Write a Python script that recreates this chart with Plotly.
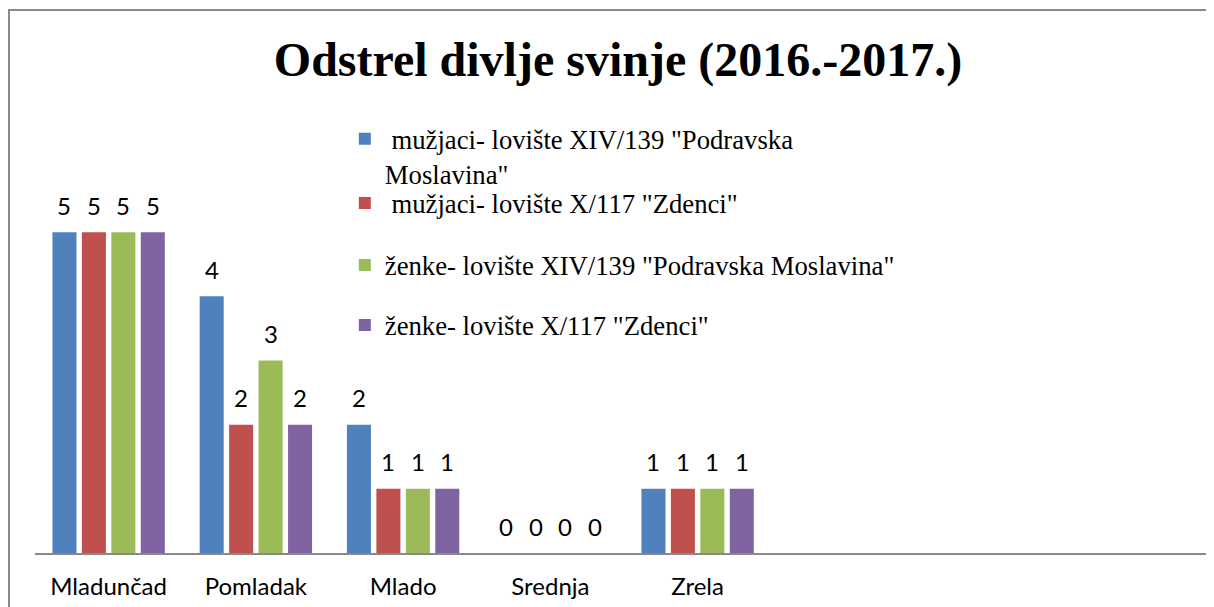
import plotly.graph_objects as go

categories = ["Mladunčad", "Pomladak", "Mlado", "Srednja", "Zrela"]
series_names = [
    "\u00a0mužjaci- lovište XIV/139 \"Podravska<br>Moslavina\"",
    "\u00a0mužjaci- lovište X/117 \"Zdenci\"",
    "ženke- lovište XIV/139 \"Podravska Moslavina\"",
    "ženke- lovište X/117 \"Zdenci\"",
]
muzjaci_podravska = [5, 4, 2, 0, 1]
muzjaci_zdenci = [5, 2, 1, 0, 1]
zenke_podravska = [5, 3, 1, 0, 1]
zenke_zdenci = [5, 2, 1, 0, 1]
series_values = [muzjaci_podravska, muzjaci_zdenci, zenke_podravska, zenke_zdenci]
colors = ["#4F81BD", "#C0504D", "#9BBB59", "#8064A2"]
title_text = "Odstrel divlje svinje (2016.-2017.)"

label_font = "Lato, Open Sans, sans-serif"
serif_font = "Liberation Serif, Times New Roman, serif"

# figure geometry (page has an 8px body margin)
FIG_W, FIG_H = 1206, 599
M_L, M_R, M_T, M_B = 27, 1, 160, 54
X_RANGE = [-0.5, 7.5]
BARGAP, BARGROUPGAP = 0.20, 0.184
plot_w = FIG_W - M_L - M_R
slot_px = plot_w / (X_RANGE[1] - X_RANGE[0])
pitch_px = slot_px * (1 - BARGAP) / len(series_values)

fig = go.Figure()
legend_ids = ["legend", "legend2", "legend3", "legend4"]
for name, vals, col, lg in zip(series_names, series_values, colors, legend_ids):
    fig.add_trace(go.Bar(
        x=categories, y=vals, name=name,
        marker=dict(color=col, line=dict(width=0)),
        legend=lg,
    ))

annotations = []
n = len(series_values)
for i, vals in enumerate(series_values):
    for cat, v in zip(categories, vals):
        annotations.append(dict(
            x=cat, y=v, xref="x", yref="y", text=str(v), showarrow=False,
            xanchor="center", yanchor="middle",
            xshift=(i - (n - 1) / 2) * pitch_px, yshift=27,
            font=dict(family=label_font, size=24, color="#000000"),
        ))

legend_common = dict(
    font=dict(family=serif_font, size=26.7, color="#000000"),
    bgcolor="rgba(0,0,0,0)", borderwidth=0,
    xanchor="left", x=0.263,
)
legend_y = [(1.138, "top"), (0.909, "middle"), (0.748, "middle"), (0.592, "middle")]

layout_legends = {}
for lg, (yy, anc) in zip(legend_ids, legend_y):
    d = dict(legend_common)
    d.update(y=yy, yanchor=anc, valign="top")
    layout_legends[lg] = d

fig.update_layout(
    width=FIG_W, height=FIG_H,
    margin=dict(l=M_L, r=M_R, t=M_T, b=M_B),
    paper_bgcolor="white", plot_bgcolor="white",
    barmode="group", bargap=BARGAP, bargroupgap=BARGROUPGAP,
    title=dict(
        text="<b>" + title_text + "</b>",
        font=dict(family=serif_font, size=48, color="#000000"),
        x=610 / FIG_W, xanchor="center", y=1 - 51 / FIG_H, yanchor="middle",
        xref="container", yref="container",
    ),
    showlegend=True,
    xaxis=dict(
        type="category", range=X_RANGE,
        showline=True, linecolor="#898989", linewidth=2,
        showgrid=False, zeroline=False, ticks="",
        ticklabelstandoff=11,
        tickfont=dict(family=label_font, size=24, color="#000000"),
    ),
    yaxis=dict(
        range=[0, 6], visible=False, showgrid=False, zeroline=False,
    ),
    annotations=annotations,
    shapes=[dict(
        type="rect", xref="paper", yref="paper",
        x0=-0.0221, x1=1.1, y0=-0.3, y1=1.4104,
        line=dict(color="#898989", width=2), fillcolor="rgba(0,0,0,0)",
        layer="above",
    )],
    **layout_legends,
)

fig.write_html("out.html")
